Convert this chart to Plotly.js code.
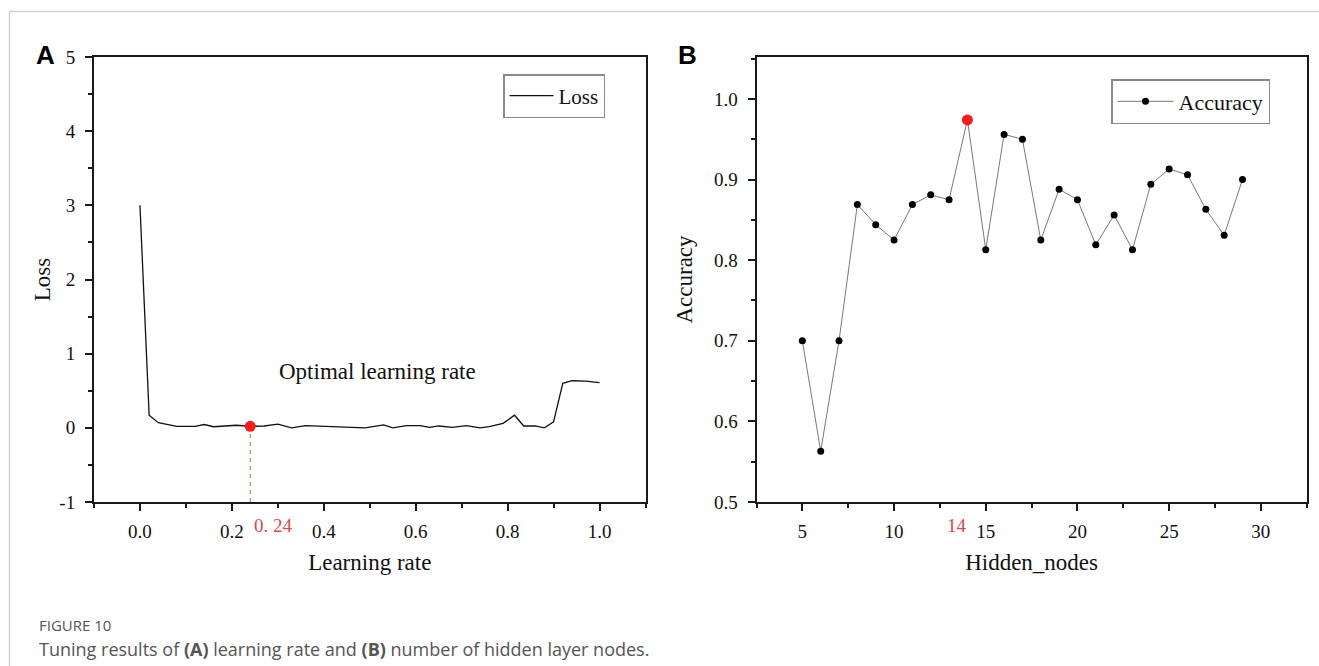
<!DOCTYPE html>
<html>
<head>
<meta charset="utf-8">
<script src="https://cdn.plot.ly/plotly-3.0.1.min.js"></script>
<style>
  html, body { margin: 0; padding: 0; background: #ffffff; }
  #chart { width: 1319px; height: 666px; }
</style>
</head>
<body>
<div id="chart"></div>
<script>
// ---------- Panel A data: loss vs learning rate ----------
const learningRate = [0, 0.02, 0.04, 0.08, 0.12, 0.14, 0.16, 0.19, 0.21, 0.24, 0.27, 0.30, 0.33, 0.36,
  0.41, 0.46, 0.49, 0.53, 0.55, 0.58, 0.61, 0.63, 0.65, 0.68, 0.71, 0.74, 0.76, 0.79, 0.815, 0.835,
  0.86, 0.88, 0.90, 0.92, 0.94, 0.97, 1.0];
const lossValues = [3.0, 0.17, 0.07, 0.02, 0.02, 0.045, 0.015, 0.025, 0.035, 0.02, 0.025, 0.05, 0.0, 0.03,
  0.015, 0.01, 0.0, 0.04, 0.0, 0.03, 0.03, 0.005, 0.025, 0.005, 0.03, 0.0, 0.015, 0.06, 0.17, 0.025,
  0.025, 0.0, 0.08, 0.6, 0.635, 0.63, 0.61];
const optimalLr = 0.24;
const lossTickVals = [-1, 0, 1, 2, 3, 4, 5];
const lossTickText = ["-1", "0", "1", "2", "3", "4", "5"];
const lrTickVals = [0, 0.2, 0.4, 0.6, 0.8, 1.0];
const lrTickText = ["0.0", "0.2", "0.4", "0.6", "0.8", "1.0"];

// ---------- Panel B data: accuracy vs hidden nodes ----------
const hiddenNodes = [5, 6, 7, 8, 9, 10, 11, 12, 13, 14, 15, 16, 17, 18, 19, 20, 21, 22, 23, 24, 25, 26, 27, 28, 29];
const accuracyValues = [0.700, 0.563, 0.700, 0.869, 0.844, 0.825, 0.869, 0.881, 0.875, 0.974, 0.813, 0.956,
  0.950, 0.825, 0.888, 0.875, 0.819, 0.856, 0.813, 0.894, 0.913, 0.906, 0.863, 0.831, 0.900];
const bestNodes = 14;
const accTickVals = [0.5, 0.6, 0.7, 0.8, 0.9, 1.0];
const accTickText = ["0.5", "0.6", "0.7", "0.8", "0.9", "1.0"];
const nodeTickVals = [5, 10, 15, 20, 25, 30];

const optimalLoss = lossValues[learningRate.indexOf(optimalLr)];
const bestAcc = accuracyValues[hiddenNodes.indexOf(bestNodes)];

const SERIF = "Liberation Serif, Times New Roman, serif";
const INK = "#1a1a1a";
const lossRange = [-1, 5];

const traces = [
  { x: learningRate, y: lossValues, type: "scatter", mode: "lines", name: "Loss",
    line: { color: "#111", width: 1.3 }, xaxis: "x", yaxis: "y", legend: "legend" },
  { x: [optimalLr, optimalLr], y: [lossRange[0], optimalLoss], type: "scatter", mode: "lines",
    line: { color: "#d9534f", width: 1, dash: "4px,4px" }, showlegend: false, hoverinfo: "skip",
    xaxis: "x", yaxis: "y" },
  { x: [optimalLr], y: [optimalLoss], type: "scatter", mode: "markers", showlegend: false,
    marker: { color: "#ff1a1a", size: 11 }, xaxis: "x", yaxis: "y" },
  { x: hiddenNodes, y: accuracyValues, type: "scatter", mode: "lines+markers", name: "Accuracy",
    line: { color: "#555", width: 0.8 }, marker: { color: "#000", size: 7 },
    xaxis: "x2", yaxis: "y2", legend: "legend2" },
  { x: [bestNodes], y: [bestAcc], type: "scatter", mode: "markers", showlegend: false,
    marker: { color: "#ff1a1a", size: 11 }, xaxis: "x2", yaxis: "y2" }
];

const axisBase = {
  showline: true, linewidth: 2, linecolor: INK, mirror: true,
  ticks: "outside", ticklen: 7, tickwidth: 2, tickcolor: INK,
  showgrid: false, zeroline: false, automargin: false,
  tickfont: { family: SERIF, size: 19, color: "#111" },
  title: { font: { family: SERIF, size: 23, color: "#111" } }
};

function ax(extra) { return Object.assign({}, JSON.parse(JSON.stringify(axisBase)), extra); }

const yDomain = [(666 - 502) / 666, (666 - 57) / 666];

const layout = {
  width: 1319, height: 666,
  margin: { l: 0, r: 0, t: 0, b: 0 },
  paper_bgcolor: "#ffffff", plot_bgcolor: "#ffffff",
  showlegend: true,
  xaxis: ax({ domain: [94 / 1319, 645.5 / 1319], range: [-0.1, 1.1], anchor: "y",
    tickmode: "array", tickvals: lrTickVals, ticktext: lrTickText, ticklabelstandoff: 4,
    minor: { dtick: 0.1, tick0: 0, ticks: "outside", ticklen: 4, tickwidth: 2, tickcolor: INK },
    title: { text: "Learning rate", standoff: 13, font: { family: SERIF, size: 23, color: "#111" } } }),
  yaxis: ax({ domain: yDomain, range: lossRange, anchor: "x",
    tickmode: "array", tickvals: lossTickVals, ticktext: lossTickText, ticklabelstandoff: 6,
    minor: { dtick: 0.5, tick0: 0, ticks: "outside", ticklen: 4, tickwidth: 2, tickcolor: INK },
    title: { text: "Loss", standoff: 2, font: { family: SERIF, size: 23, color: "#111" } } }),
  xaxis2: ax({ domain: [756.5 / 1319, 1306.7 / 1319], range: [2.5, 32.5], anchor: "y2",
    tickmode: "array", tickvals: nodeTickVals, ticklabelstandoff: 4,
    minor: { dtick: 2.5, tick0: 0, ticks: "outside", ticklen: 4, tickwidth: 2, tickcolor: INK },
    title: { text: "Hidden_nodes", standoff: 13, font: { family: SERIF, size: 23, color: "#111" } } }),
  yaxis2: ax({ domain: yDomain, range: [0.5, 1.052], anchor: "x2",
    tickmode: "array", tickvals: accTickVals, ticktext: accTickText, ticklabelstandoff: 6,
    minor: { dtick: 0.05, tick0: 0, ticks: "outside", ticklen: 4, tickwidth: 2, tickcolor: INK },
    title: { text: "Accuracy", standoff: 15, font: { family: SERIF, size: 23, color: "#111" } } }),
  legend: { x: 503 / 1319, y: (666 - 74) / 666, xanchor: "left", yanchor: "top",
    bgcolor: "rgba(255,255,255,0)", bordercolor: "#8a8a8a", borderwidth: 1.5,
    font: { family: SERIF, size: 21, color: "#111" }, itemwidth: 44 },
  legend2: { x: 1111 / 1319, y: (666 - 79) / 666, xanchor: "left", yanchor: "top",
    bgcolor: "rgba(255,255,255,0)", bordercolor: "#8a8a8a", borderwidth: 1.5,
    font: { family: SERIF, size: 22, color: "#111" }, itemwidth: 56 },
  shapes: [
    { type: "line", xref: "paper", yref: "paper", x0: 9.5 / 1319, x1: 9.5 / 1319, y0: 0, y1: (666 - 11.5) / 666,
      line: { color: "#cfcfcf", width: 1.5 } },
    { type: "line", xref: "paper", yref: "paper", x0: 9.5 / 1319, x1: 1, y0: (666 - 11.5) / 666, y1: (666 - 11.5) / 666,
      line: { color: "#cfcfcf", width: 1.5 } }
  ],
  annotations: [
    { text: "<b>A</b>", xref: "paper", yref: "paper", x: 34 / 1319, y: (666 - 55) / 666,
      xanchor: "left", yanchor: "middle", showarrow: false,
      font: { family: "Liberation Sans, Arial, sans-serif", size: 26, color: "#000" } },
    { text: "<b>B</b>", xref: "paper", yref: "paper", x: 676 / 1319, y: (666 - 55) / 666,
      xanchor: "left", yanchor: "middle", showarrow: false,
      font: { family: "Liberation Sans, Arial, sans-serif", size: 26, color: "#000" } },
    { text: "Optimal learning rate", xref: "x", yref: "y", x: 0.516, y: 0.76,
      xanchor: "center", yanchor: "middle", showarrow: false,
      font: { family: SERIF, size: 23, color: "#111" } },
    { text: "0. 24", xref: "x", yref: "paper", x: optimalLr + 0.003, y: (666 - 525) / 666,
      xanchor: "left", yanchor: "middle", showarrow: false,
      font: { family: SERIF, size: 19, color: "#e0474c" } },
    { text: String(bestNodes), xref: "x2", yref: "paper", x: 13.45, y: (666 - 525) / 666,
      xanchor: "center", yanchor: "middle", showarrow: false,
      font: { family: SERIF, size: 19, color: "#e0474c" } },
    { text: "FIGURE 10", xref: "paper", yref: "paper", x: 37 / 1319, y: (666 - 625) / 666,
      xanchor: "left", yanchor: "middle", showarrow: false,
      font: { family: "Open Sans, Noto Sans, sans-serif", size: 15, color: "#555" } },
    { text: "Tuning results of <b>(A)</b> learning rate and <b>(B)</b> number of hidden layer nodes.",
      xref: "paper", yref: "paper", x: 37 / 1319, y: (666 - 648.5) / 666,
      xanchor: "left", yanchor: "middle", showarrow: false,
      font: { family: "Open Sans, Noto Sans, sans-serif", size: 18, color: "#555" } }
  ]
};

Plotly.newPlot("chart", traces, layout, { displayModeBar: false, staticPlot: true });
</script>
</body>
</html>
